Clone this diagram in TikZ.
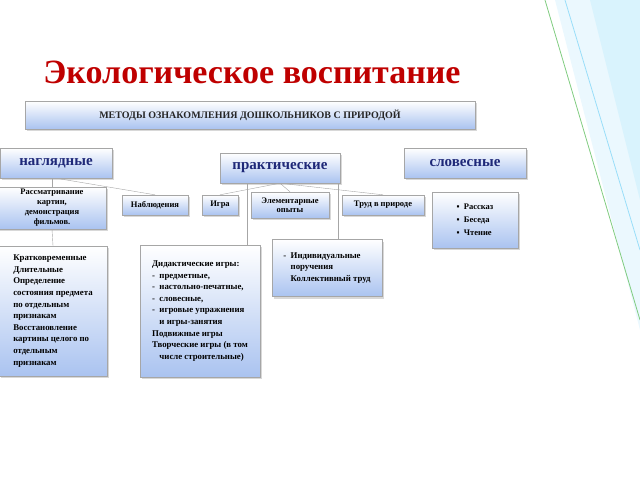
\documentclass[tikz,border=0pt]{standalone}
\usepackage{fontspec}
\setmainfont{Liberation Serif}
\usetikzlibrary{shadows}
\definecolor{bx}{RGB}{170,195,240}
\definecolor{hd}{RGB}{30,40,120}
\tikzset{
 box/.style={draw=gray!70, top color=white, bottom color=bx, drop shadow={shadow xshift=2pt,shadow yshift=-2pt,fill=gray!60}, font=\bfseries\fontsize{8.5}{9.5}\selectfont, inner sep=2pt},
 head/.style={box, font=\bfseries\fontsize{15}{17}\selectfont, text=hd},
 big/.style={box, align=left, font=\fontseries{b}\fontsize{8.8}{11.6}\selectfont}
}
\begin{document}
\begin{tikzpicture}[x=1pt,y=-1pt]
\useasboundingbox (0,0) rectangle (640,480);
\fill[cyan!8] (555,0) -- (640,0) -- (640,330) -- cycle;
\fill[cyan!15] (590,0) -- (640,0) -- (640,200) -- cycle;
\draw[green!60!black!50, line width=0.8pt] (545,0) -- (640,320);
\draw[cyan!40, line width=0.8pt] (565,0) -- (640,250);
\node[text=red!75!black, font=\bfseries\fontsize{34}{38}\selectfont] (t) at (252,72) {Экологическое воспитание};
\node[box, minimum width=450, minimum height=28, font=\bfseries\fontsize{10}{12}\selectfont, text=black!85] (m) at (250,115) {МЕТОДЫ ОЗНАКОМЛЕНИЯ ДОШКОЛЬНИКОВ С ПРИРОДОЙ};
\node[head, minimum width=112, minimum height=30] (n) at (56,163) {наглядные};
\node[head, minimum width=120, minimum height=30] (p) at (280,168) {практические};
\node[head, minimum width=122, minimum height=30] (s) at (465,163) {словесные};
\node[box, minimum width=108, minimum height=42, align=center, font=\bfseries\fontsize{8.5}{10}\selectfont] (r) at (52,208) {Рассматривание\\картин,\\демонстрация\\фильмов.};
\node[box, minimum width=66, minimum height=20] (nb) at (155,205) {Наблюдения};
\node[box, minimum width=36, minimum height=20] (ig) at (220,205) {Игра};
\node[box, minimum width=78, minimum height=26, align=center] (op) at (290,205) {Элементарные\\опыты};
\node[box, minimum width=82, minimum height=20] (tr) at (383,205) {Труд в природе};
\node[box, minimum width=86, minimum height=56, align=left, font=\bfseries\fontsize{8.5}{13}\selectfont] (sl) at (475,220) {▪\ \ Рассказ\\▪\ \ Беседа\\▪\ \ Чтение};
\node[big, minimum width=108, minimum height=130] (k) at (53,311) {Кратковременные\\Длительные\\Определение\\состояния предмета\\по отдельным\\признакам\\Восстановление\\картины целого по\\отдельным\\признакам};
\node[big, minimum width=120, minimum height=132] (d) at (200,311) {Дидактические игры:\\-\ \ предметные,\\-\ \ настольно-печатные,\\-\ \ словесные,\\-\ \ игровые упражнения\\\phantom{-}\ \ и игры-занятия\\Подвижные игры\\Творческие игры (в том\\\phantom{-}\ \ числе строительные)};
\node[big, minimum width=110, minimum height=57] (i) at (327,268) {-\ \ Индивидуальные\\\phantom{-}\ \ поручения\\\phantom{-}\ \ Коллективный труд};
\draw[gray!70] (n.south -| r.north) -- (r.north);
\draw[gray!70] (n.south) -- (nb.north);
\draw[gray!70] (r.south) -- (k.north);
\draw[gray!70] (p.south) -- (ig.north);
\draw[gray!70] (p.south) -- (op.north);
\draw[gray!70] (p.south) -- (tr.north);
\draw[gray!70] ([xshift=-33pt]p.south) -- ([xshift=-33pt]p.south |- d.north);
\draw[gray!70] ([xshift=58pt]p.south) -- ([xshift=58pt]p.south |- i.north);
\end{tikzpicture}
\end{document}
